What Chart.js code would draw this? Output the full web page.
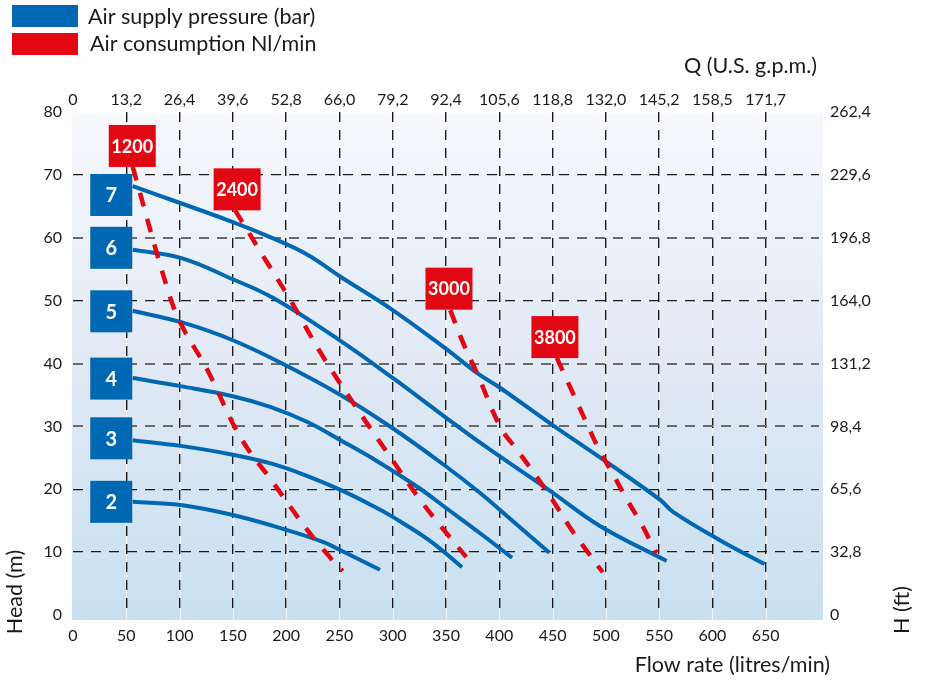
<!DOCTYPE html>
<html>
<head>
<meta charset="utf-8">
<script src="https://cdn.jsdelivr.net/npm/chart.js@4.4.1/dist/chart.umd.min.js"></script>
<style>
	html, body { margin: 0; padding: 0; background: #fff; }
	#divCanvas { width: 930px; height: 682px; }
</style>
</head>
<body>
<div id="divCanvas"><canvas id="graficoBomba" width="930" height="682"></canvas></div>
<script>
// Flow rate (l/min) and head (m)
var flow2 = [56, 101, 150, 201, 235, 251, 288];
var head2 = [18.0, 17.5, 15.9, 13.5, 11.6, 10.3, 7.2];
var flow3 = [56, 101, 150, 188, 220, 251, 282, 300, 335, 365];
var head3 = [27.8, 26.9, 25.5, 24.0, 22.1, 19.9, 17.3, 15.6, 11.8, 7.6];
var flow4 = [56, 101, 150, 185, 220, 251, 285, 323, 351, 382, 412];
var head4 = [37.7, 36.4, 34.8, 33.1, 30.7, 27.8, 24.5, 20.4, 16.9, 13.0, 9.1];
var flow5 = [56, 107, 150, 194, 251, 300, 351, 382, 415, 447];
var head5 = [48.4, 46.3, 43.7, 40.2, 35.0, 29.7, 23.5, 19.4, 14.6, 9.9];
var flow6 = [56, 101, 150, 188, 251, 300, 342, 382, 448, 494, 557];
var head6 = [58.1, 56.8, 53.4, 50.4, 43.6, 37.7, 32.4, 27.4, 19.7, 14.2, 8.6];
var flow7 = [56, 150, 185, 220, 251, 300, 351, 379, 401, 450, 501, 551, 563, 607, 649];
var head7 = [68.2, 62.5, 60.1, 57.3, 53.8, 48.5, 42.2, 38.5, 36.1, 30.2, 24.3, 18.3, 16.4, 11.9, 8.1];

// Air consumption lines (Nl/min)
var flow1200 = [56, 88, 101, 126, 157, 188, 220, 241, 253];
var head1200 = [71.3, 52.2, 46.4, 39.0, 28.3, 21.0, 13.5, 9.2, 7.0];
var flow2400 = [152, 182, 204, 232, 263, 295, 328, 369];
var head2400 = [64.4, 56.1, 50.1, 41.8, 33.7, 25.8, 17.8, 9.2];
var flow3000 = [354, 366, 379, 401, 417, 435, 450, 466, 483, 497];
var head3000 = [48.5, 43.3, 38.5, 29.9, 26.2, 22.0, 18.3, 14.0, 10.0, 6.8];
var flow3800 = [454, 469, 482, 494, 507, 520, 534, 546, 548];
var head3800 = [40.9, 35.3, 30.5, 26.2, 22.3, 18.3, 14.3, 10.3, 9.9];

// Labels on the curves
var pressLabels = ['7', '6', '5', '4', '3', '2'];
var pressLabelX = 35.9;
var pressLabelY = [66.8, 58.4, 48.3, 37.6, 28.1, 18.0];
var consLabels = ['1200', '2400', '3000', '3800'];
var consLabelX = [55.6, 154, 352.8, 452.2];
var consLabelY = [74.6, 67.7, 51.9, 44.2];

// Axis ticks
var flowTicks = [0, 50, 100, 150, 200, 250, 300, 350, 400, 450, 500, 550, 600, 650];
var gpmLabels = ['0', '13,2', '26,4', '39,6', '52,8', '66,0', '79,2', '92,4', '105,6', '118,8', '132,0', '145,2', '158,5', '171,7'];
var headTicks = [0, 10, 20, 30, 40, 50, 60, 70, 80];
var ftLabels = ['0', '32,8', '65,6', '98,4', '131,2', '164,0', '196,8', '229,6', '262,4'];

var AZUL = '#0068b3';
var VERMELHO = '#e30613';
var FONTE = 'Lato';

function pontos(xs, ys) {
	var p = [];
	for (var i = 0; i < xs.length; i++) {
		p.push({x: xs[i], y: ys[i]});
	}
	return p;
}

function curvaPressao(xs, ys) {
	return {
		data: pontos(xs, ys),
		borderColor: AZUL,
		borderWidth: 4,
		pointRadius: 0,
		tension: 0.4,
		fill: false,
		order: 2
	};
}

function curvaConsumo(xs, ys) {
	return {
		data: pontos(xs, ys),
		borderColor: VERMELHO,
		borderWidth: 4.5,
		borderDash: [14, 13],
		borderCapStyle: 'butt',
		pointRadius: 0,
		tension: 0.4,
		fill: false,
		order: 1
	};
}

var pluginDesenho = {
	id: 'desenho',
	beforeDraw: function (chart) {
		var ctx = chart.ctx, a = chart.chartArea;
		ctx.save();
		var g = ctx.createLinearGradient(0, a.top, 0, a.bottom + 5);
		g.addColorStop(0, '#f7f8fc');
		g.addColorStop(0.5, '#e1e9f5');
		g.addColorStop(1, '#c8e0f0');
		ctx.fillStyle = g;
		ctx.fillRect(a.left - 1, a.top + 2, a.right - a.left + 5, a.bottom - a.top + 3);
		// faint white lines behind the dashed grid
		var sx = chart.scales.x;
		ctx.strokeStyle = 'rgba(255,255,255,0.75)';
		ctx.lineWidth = 1;
		for (var i = 1; i < flowTicks.length; i++) {
			var px = Math.round(sx.getPixelForValue(flowTicks[i])) + 0.5;
			ctx.beginPath();
			ctx.moveTo(px, a.top + 2);
			ctx.lineTo(px, a.bottom + 5);
			ctx.stroke();
		}
		ctx.restore();
	},
	afterDatasetsDraw: function (chart) {
		var ctx = chart.ctx, sx = chart.scales.x, sy = chart.scales.y;
		ctx.save();
		ctx.textAlign = 'center';
		ctx.textBaseline = 'middle';
		ctx.font = 'bold 20px ' + FONTE;
		for (var i = 0; i < pressLabels.length; i++) {
			var px = sx.getPixelForValue(pressLabelX);
			var py = sy.getPixelForValue(pressLabelY[i]);
			ctx.fillStyle = AZUL;
			ctx.fillRect(px - 21, py - 21, 42, 42);
			ctx.fillStyle = '#fff';
			ctx.fillText(pressLabels[i], px, py + 1);
		}
		ctx.font = 'bold 18px ' + FONTE;
		for (var j = 0; j < consLabels.length; j++) {
			var qx = sx.getPixelForValue(consLabelX[j]);
			var qy = sy.getPixelForValue(consLabelY[j]);
			ctx.fillStyle = VERMELHO;
			ctx.fillRect(qx - 23.5, qy - 21, 47, 42);
			ctx.fillStyle = '#fff';
			ctx.fillText(consLabels[j], qx, qy + 1);
		}
		ctx.restore();
	},
	afterDraw: function (chart) {
		var ctx = chart.ctx;
		ctx.save();
		// legend
		ctx.fillStyle = AZUL;
		ctx.fillRect(12, 5, 66, 22);
		ctx.fillStyle = VERMELHO;
		ctx.fillRect(12, 33, 66, 22);
		ctx.fillStyle = '#1a1a1a';
		ctx.font = '21.5px ' + FONTE;
		ctx.textAlign = 'left';
		ctx.textBaseline = 'middle';
		ctx.fillText('Air supply pressure (bar)', 88, 17);
		ctx.fillText('Air consumption Nl/min', 90, 44);
		// axis titles
		ctx.font = '21.5px ' + FONTE;
		ctx.textAlign = 'right';
		ctx.fillText('Q (U.S. g.p.m.)', 817, 66);
		ctx.fillText('Flow rate (litres/min)', 830, 665);
		ctx.textAlign = 'center';
		ctx.translate(15, 592);
		ctx.rotate(-Math.PI / 2);
		ctx.fillText('Head (m)', 0, 0);
		ctx.restore();
		ctx.save();
		ctx.fillStyle = '#1a1a1a';
		ctx.font = '21.5px ' + FONTE;
		ctx.textAlign = 'center';
		ctx.textBaseline = 'middle';
		ctx.translate(902, 610);
		ctx.rotate(-Math.PI / 2);
		ctx.fillText('H (ft)', 0, 0);
		ctx.restore();
	}
};

function corGradeX(c) {
	if (!c.tick || c.tick.value === 0) return 'rgba(0,0,0,0)';
	return '#1a1a1a';
}

function corGradeY(c) {
	if (!c.tick || c.tick.value === 0 || c.tick.value === 80) return 'rgba(0,0,0,0)';
	var v = c.tick.value;
	return (v === 60 || v === 40 || v === 30) ? '#6a6a6a' : '#1a1a1a';
}

function larguraGradeY(c) {
	var v = c.tick ? c.tick.value : 0;
	return (v === 60 || v === 40 || v === 30) ? 2 : 1.3;
}

var fonteTick = {family: FONTE, size: 16};

var grafico = new Chart(document.getElementById('graficoBomba'), {
	type: 'line',
	data: {
		datasets: [
			curvaConsumo(flow1200, head1200),
			curvaConsumo(flow2400, head2400),
			curvaConsumo(flow3000, head3000),
			curvaConsumo(flow3800, head3800),
			curvaPressao(flow2, head2),
			curvaPressao(flow3, head3),
			curvaPressao(flow4, head4),
			curvaPressao(flow5, head5),
			curvaPressao(flow6, head6),
			curvaPressao(flow7, head7)
		]
	},
	options: {
		responsive: false,
		devicePixelRatio: 1,
		animation: false,
		layout: {padding: 0},
		plugins: {
			legend: {display: false},
			tooltip: {enabled: false},
			title: {display: false}
		},
		scales: {
			x: {
				type: 'linear',
				position: 'bottom',
				min: 0,
				max: 700,
				afterFit: function (s) { s.height = 67; },
				afterBuildTicks: function (s) {
					s.ticks = flowTicks.map(function (v) { return {value: v}; });
				},
				ticks: {
					autoSkip: false, maxRotation: 0, padding: 11,
					color: '#1a1a1a', font: fonteTick,
					callback: function (v) { return String(v); }
				},
				grid: {color: corGradeX, lineWidth: 1.4, drawTicks: false},
				border: {display: false, dash: [10, 8]}
			},
			x2: {
				type: 'linear',
				position: 'top',
				min: 0,
				max: 700,
				afterFit: function (s) { s.height = 112; },
				afterBuildTicks: function (s) {
					s.ticks = flowTicks.map(function (v) { return {value: v}; });
				},
				ticks: {
					autoSkip: false, maxRotation: 0, padding: 3,
					color: '#1a1a1a', font: fonteTick,
					callback: function (v) { return gpmLabels[flowTicks.indexOf(v)]; }
				},
				grid: {display: false, drawTicks: false},
				border: {display: false}
			},
			y: {
				type: 'linear',
				position: 'left',
				min: 0,
				max: 80,
				afterFit: function (s) { s.width = 73; },
				afterBuildTicks: function (s) {
					s.ticks = headTicks.map(function (v) { return {value: v}; });
				},
				ticks: {
					autoSkip: false, padding: 11,
					color: '#1a1a1a', font: fonteTick
				},
				grid: {color: corGradeY, lineWidth: larguraGradeY, drawTicks: false},
				border: {display: false, dash: [10, 8]}
			},
			y2: {
				type: 'linear',
				position: 'right',
				min: 0,
				max: 80,
				afterFit: function (s) { s.width = 111; },
				afterBuildTicks: function (s) {
					s.ticks = headTicks.map(function (v) { return {value: v}; });
				},
				ticks: {
					autoSkip: false, padding: 11,
					color: '#1a1a1a', font: fonteTick,
					callback: function (v) { return ftLabels[headTicks.indexOf(v)]; }
				},
				grid: {display: false, drawTicks: false},
				border: {display: false}
			}
		}
	},
	plugins: [pluginDesenho]
});
</script>
</body>
</html>
